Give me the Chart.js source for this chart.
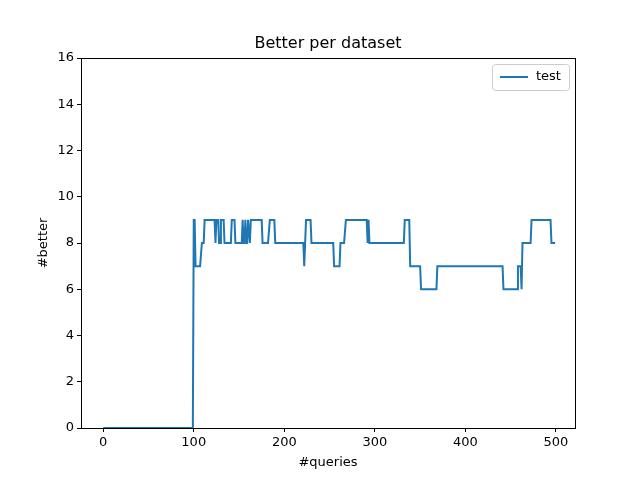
<!DOCTYPE html>
<html>
<head>
<script src="https://cdn.jsdelivr.net/npm/chart.js@4"></script>
<style>body{margin:0;background:#fff}</style>
</head>
<body>
<canvas id="c" width="640" height="480" style="width:640px;height:480px"></canvas>
<script>
// step runs: value holds from runStart until next start
const runStarts = [0, 100, 102, 109, 112, 124, 125, 128, 130, 134, 142, 146, 154, 155, 157, 158, 160, 162, 163, 176, 184, 190, 222, 223, 224, 230, 255, 262, 268, 292, 293, 294, 333, 339, 351, 369, 442, 458, 462, 463, 473, 495];
const runValues = [0, 9, 7, 8, 9, 8, 9, 8, 9, 8, 9, 8, 9, 8, 9, 8, 9, 8, 9, 8, 9, 8, 7, 8, 9, 8, 7, 8, 9, 8, 9, 8, 9, 7, 6, 7, 6, 7, 6, 8, 9, 8];
const lastQuery = 499;
const xTicks = [0, 100, 200, 300, 400, 500];
const seriesLabel = 'test';

const points = [];
for (let i = 0; i < runStarts.length; i++) {
  const end = i + 1 < runStarts.length ? runStarts[i + 1] - 1 : lastQuery;
  for (let q = runStarts[i]; q <= end; q++) points.push({ x: q, y: runValues[i] });
}

const FONT = 'DejaVu Sans';
Chart.defaults.font.family = FONT;
Chart.defaults.color = '#000';

const decor = {
  id: 'decor',
  afterDraw(chart) {
    const { ctx, chartArea: a } = chart;
    ctx.save();
    ctx.strokeStyle = '#000';
    ctx.lineWidth = 1;
    ctx.strokeRect(a.left + 0.5, a.top + 0.5, a.right - a.left, a.bottom - a.top);
    ctx.fillStyle = '#000';
    ctx.font = '16px ' + FONT;
    ctx.textAlign = 'center';
    ctx.textBaseline = 'middle';
    ctx.fillText('Better per dataset', (a.left + a.right) / 2, 44);
    // legend box
    const bx = 492, by = 64, bw = 77, bh = 26;
    ctx.strokeStyle = '#ccc';
    ctx.fillStyle = 'rgba(255,255,255,0.8)';
    ctx.beginPath();
    ctx.roundRect(bx + 0.5, by + 0.5, bw, bh, 3);
    ctx.fill();
    ctx.stroke();
    ctx.strokeStyle = '#1f77b4';
    ctx.lineWidth = 2;
    ctx.beginPath();
    ctx.moveTo(bx + 8, by + 13);
    ctx.lineTo(bx + 36, by + 13);
    ctx.stroke();
    ctx.fillStyle = '#000';
    ctx.font = '13px ' + FONT;
    ctx.textAlign = 'left';
    ctx.fillText(seriesLabel, bx + 44, by + 13);
    ctx.restore();
  }
};

new Chart(document.getElementById('c'), {
  type: 'line',
  data: {
    datasets: [{
      label: seriesLabel,
      data: points,
      borderColor: '#1f77b4',
      borderWidth: 2,
      pointRadius: 0,
      tension: 0
    }]
  },
  options: {
    responsive: false,
    animation: false,
    layout: { padding: { left: 32, right: 65, top: 58, bottom: 6 } },
    plugins: { legend: { display: false }, title: { display: false }, tooltip: { enabled: false } },
    scales: {
      x: {
        type: 'linear',
        min: -24.5,
        max: 521,
        afterBuildTicks: (s) => { s.ticks = xTicks.map(v => ({ value: v })); },
        afterFit: (s) => { s.height = 46; },
        grid: { drawOnChartArea: false, tickLength: 4, color: '#000' },
        border: { color: '#000' },
        ticks: { font: { size: 13 }, padding: 3, maxRotation: 0 },
        title: { display: true, text: '#queries', font: { size: 13 }, padding: { top: 0 } }
      },
      y: {
        min: 0,
        max: 16,
        afterFit: (s) => { s.width = 49; },
        grid: { drawOnChartArea: false, tickLength: 4, color: '#000' },
        border: { color: '#000' },
        ticks: { stepSize: 2, font: { size: 13 }, padding: 3 },
        title: { display: true, text: '#better', font: { size: 13 }, padding: { bottom: 2 } }
      }
    }
  },
  plugins: [decor]
});
</script>
</body>
</html>
